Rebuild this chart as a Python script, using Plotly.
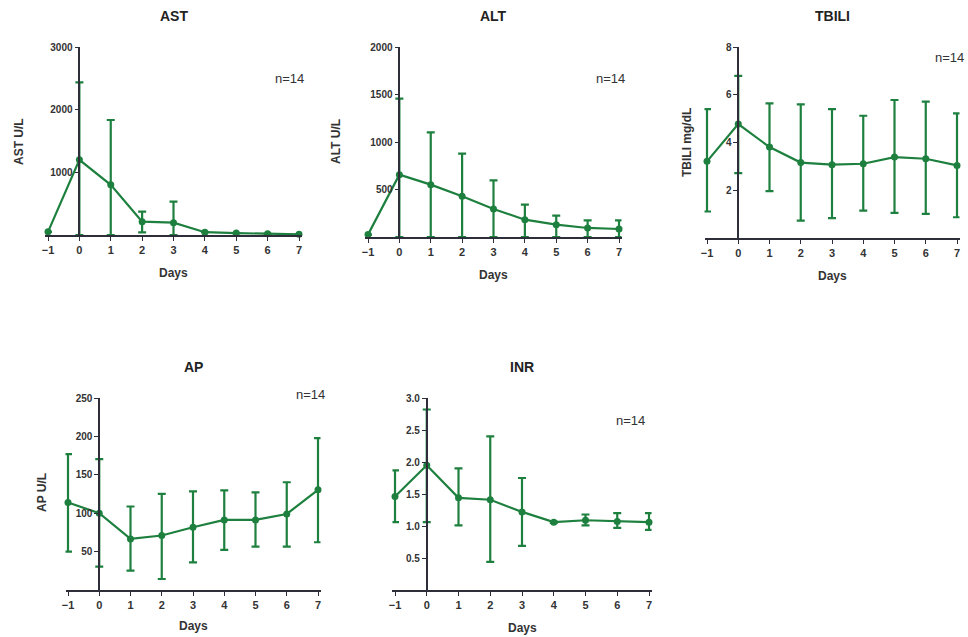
import plotly.graph_objects as go

W, H = 968, 637

days = [-1, 0, 1, 2, 3, 4, 5, 6, 7]

ast_mean = [50, 1200, 800, 213, 197, 45, 30, 18, 12]
ast_err_up = [0, 1235, 1035, 160, 336, 0, 0, 0, 0]
ast_err_down = [0, 1200, 800, 170, 197, 0, 0, 0, 0]

alt_mean = [25, 656, 551, 428, 295, 182, 130, 95, 84]
alt_err_up = [0, 800, 551, 449, 301, 158, 95, 80, 91]
alt_err_down = [0, 656, 551, 428, 295, 182, 130, 95, 84]

tbili_mean = [3.21, 4.77, 3.81, 3.16, 3.07, 3.11, 3.39, 3.32, 3.04]
tbili_err_up = [2.19, 2.02, 1.83, 2.44, 2.33, 2.01, 2.39, 2.39, 2.18]
tbili_err_down = [2.10, 2.05, 1.85, 2.43, 2.24, 1.96, 2.34, 2.31, 2.17]

ap_mean = [114, 100, 66.5, 71, 81.7, 91.3, 91.3, 99, 130.4]
ap_err_up = [63, 70.4, 42.2, 54.2, 46.6, 38.3, 35.7, 41.3, 67.4]
ap_err_down = [64, 69.6, 41.3, 56.7, 45.6, 39.1, 34.8, 42.6, 68.2]

inr_mean = [1.46, 1.95, 1.44, 1.41, 1.22, 1.06, 1.09, 1.07, 1.06]
inr_err_up = [0.41, 0.87, 0.46, 0.99, 0.53, 0.01, 0.09, 0.13, 0.14]
inr_err_down = [0.40, 0.89, 0.43, 0.97, 0.53, 0.01, 0.08, 0.10, 0.12]

panels = [
    dict(title="AST", ytitle="AST U/L", mean=ast_mean, up=ast_err_up, down=ast_err_down,
         ymax=3000, ytickvals=[1000, 2000, 3000], fmt="d",
         px=(48, 299), py=(47, 235), ntext=(289, 78), ylab=(19, 142), days_y=273),
    dict(title="ALT", ytitle="ALT U/L", mean=alt_mean, up=alt_err_up, down=alt_err_down,
         ymax=2000, ytickvals=[500, 1000, 1500, 2000], fmt="d",
         px=(368, 619), py=(47, 237), ntext=(610, 78), ylab=(336, 142), days_y=275),
    dict(title="TBILI", ytitle="TBILI mg/dL", mean=tbili_mean, up=tbili_err_up, down=tbili_err_down,
         ymax=8, ytickvals=[2, 4, 6, 8], fmt="d",
         px=(707, 957), py=(47, 238), ntext=(949, 57), ylab=(687, 143), days_y=276),
    dict(title="AP", ytitle="AP U/L", mean=ap_mean, up=ap_err_up, down=ap_err_down,
         ymax=250, ytickvals=[50, 100, 150, 200, 250], fmt="d",
         px=(68, 318), py=(398, 590), ntext=(310, 395), ylab=(42, 493), days_y=626),
    dict(title="INR", ytitle="", mean=inr_mean, up=inr_err_up, down=inr_err_down,
         ymax=3.0, ytickvals=[0.5, 1.0, 1.5, 2.0, 2.5, 3.0], fmt=".1f",
         px=(395, 649), py=(398, 590), ntext=(630, 420), ylab=(370, 493), days_y=628),
]

GREEN = "rgb(30,128,62)"
AXIS = "#2e2e3a"
FONT = "Liberation Sans, Arial, sans-serif"
PAD = 0.08  # x-range padding in data units so edge error bars are not clipped

fig = go.Figure()
annotations = []
layout = {}

for i, p in enumerate(panels):
    k = "" if i == 0 else str(i + 1)
    xa, ya = "x" + k, "y" + k
    unit = (p["px"][1] - p["px"][0]) / 8.0
    x0 = (p["px"][0] - PAD * unit) / W
    x1 = (p["px"][1] + PAD * unit) / W
    y0, y1 = 1 - p["py"][1] / H, 1 - p["py"][0] / H
    fig.add_trace(go.Scatter(
        x=days, y=p["mean"], xaxis=xa, yaxis=ya, mode="lines+markers",
        line=dict(color=GREEN, width=2.2),
        marker=dict(color=GREEN, size=7),
        error_y=dict(type="data", symmetric=False, array=p["up"], arrayminus=p["down"],
                     color=GREEN, thickness=2.2, width=4),
        cliponaxis=False, showlegend=False, hoverinfo="x+y",
    ))
    layout["xaxis" + k] = dict(
        domain=[x0, x1], anchor=ya, range=[-1 - PAD, 7 + PAD], tickvals=days,
        showline=True, linecolor=AXIS, linewidth=1.6, ticks="outside", ticklen=4,
        tickcolor=AXIS, tickwidth=1.4, showgrid=False, zeroline=False, automargin=False,
        tickfont=dict(family=FONT, size=11, color="#333", weight="bold"),
    )
    layout["yaxis" + k] = dict(
        domain=[y0, y1], anchor="free", position=(p["px"][0] + unit) / W,
        range=[0, p["ymax"]], tickvals=p["ytickvals"], tickformat=p["fmt"],
        showline=True, linecolor=AXIS, linewidth=1.6, ticks="outside", ticklen=4,
        tickcolor=AXIS, tickwidth=1.4, showgrid=False, zeroline=False, automargin=False,
        tickfont=dict(family=FONT, size=10, color="#333", weight="bold"),
    )
    xc = (p["px"][0] + p["px"][1]) / 2 / W
    annotations.append(dict(
        text=p["title"], xref="paper", yref="paper", x=xc,
        y=y1 + 31 / H, xanchor="center", yanchor="middle", showarrow=False,
        font=dict(family=FONT, size=14, color="#222", weight="bold"),
    ))
    annotations.append(dict(
        text="Days", xref="paper", yref="paper", x=xc,
        y=1 - p["days_y"] / H, xanchor="center", yanchor="middle", showarrow=False,
        font=dict(family=FONT, size=12, color="#333", weight="bold"),
    ))
    if p["ytitle"]:
        annotations.append(dict(
            text=p["ytitle"], xref="paper", yref="paper", x=p["ylab"][0] / W,
            y=1 - p["ylab"][1] / H, xanchor="center", yanchor="middle", showarrow=False,
            textangle=-90, font=dict(family=FONT, size=12, color="#333", weight="bold"),
        ))
    annotations.append(dict(
        text="n=14", xref="paper", yref="paper", x=p["ntext"][0] / W,
        y=1 - p["ntext"][1] / H, xanchor="center", yanchor="middle", showarrow=False,
        font=dict(family=FONT, size=13, color="#333"),
    ))

fig.update_layout(
    template="none",
    width=W, height=H, margin=dict(l=0, r=0, t=0, b=0, autoexpand=False),
    paper_bgcolor="white", plot_bgcolor="white",
    annotations=annotations, **layout,
)

fig.write_html(
    "out.html",
    config={"displayModeBar": False},
    post_script="document.body.style.margin='0';document.body.style.overflow='hidden';"
                "document.documentElement.style.overflow='hidden';",
)
